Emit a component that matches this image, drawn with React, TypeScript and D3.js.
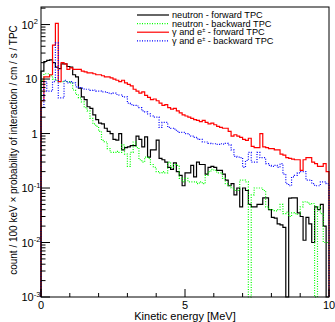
import * as d3 from "d3";

const W = 335;
const H = 322;
const FRAME = { left: 41, right: 329, top: 7, bottom: 297 };

const N_BINS = 100;
const BIN_W = 0.1; // MeV
const Y_MIN = 1e-3;
const Y_MAX = 210;

// counts per 100 keV bin (0 = empty bin)
const neutronFwd = [
	14, 21, 22, 22.5, 20, 16.5, 15.5, 19, 19, 17,
	16.5, 12, 11, 6.8, 4.7, 4.2, 3.1, 2.9, 2.2, 1.8,
	1.55, 1.5, 1.25, 1.1, 1.0, 0.78, 0.76, 1.0, 0.5, 0.55,
	0.57, 0.6, 0.6, 0.9, 0.78, 0.57, 0.87, 0.37, 0.5, 0.5,
	0.76, 0.35, 0.33, 0.3, 0.24, 0.22, 0.29, 0.2, 0.17, 0.11,
	0.19, 0.19, 0.26, 0.16, 0.3, 0.27, 0.27, 0.18, 0.24, 0.25,
	0.24, 0.21, 0.21, 0.18, 0.14, 0.11, 0.12, 0.075, 0.1, 0.045,
	0.1, 0.09, 0.05, 0.045, 0.045, 0.05, 0.05, 0.066, 0.066, 0.04,
	0.029, 0.028, 0.022, 0.021, 0.019, 0, 0.065, 0.066, 0.066, 0.035,
	0.03, 0.011, 0.029, 0.022, 0.01, 0.045, 0.04, 0.05, 0.02, 0,
];

const neutronBwd = [
	9.5, 12.5, 12.5, 11.5, 10, 9.5, 9, 9, 9.2, 9,
	8.5, 6.3, 5.2, 4.5, 3.8, 3.0, 2.6, 1.9, 1.5, 1.35,
	1.1, 0.75, 0.7, 0.53, 0.45, 0.45, 0.47, 0.45, 0.62, 0.42,
	0.25, 0.45, 0.7, 0.55, 0.33, 0.3, 0.37, 0.35, 0.27, 0.24,
	0.2, 0.19, 0.2, 0.19, 0.3, 0.24, 0.27, 0.26, 0.15, 0.13,
	0.15, 0.13, 0.13, 0.13, 0.12, 0.13, 0.12, 0.17, 0.2, 0.22,
	0.21, 0.19, 0.19, 0.15, 0.12, 0.11, 0.1, 0.09, 0.09, 0.14,
	0.14, 0.13, 0, 0.075, 0.1, 0.1, 0.1, 0.09, 0.045, 0.04,
	0.04, 0.038, 0.04, 0.05, 0.034, 0.036, 0.03, 0.035, 0.034, 0.033,
	0.045, 0.056, 0.055, 0.05, 0.052, 0, 0.045, 0.034, 0.01, 0.01,
];

const gammaFwd = [
	4, 11, 11, 12, 42, 105, 9, 20, 19, 15,
	16, 15, 15, 15, 14, 13.5, 13, 13, 12.5, 12,
	12, 11.5, 11, 11, 10.5, 10, 9.5, 9, 9.5, 8.5,
	8, 7.5, 6.5, 6, 5.5, 5.8, 5, 4.6, 4.2, 4.3,
	4, 3.6, 3.3, 3.4, 3.0, 2.8, 2.9, 2.6, 2.4, 2.2,
	2.1, 2.0, 1.9, 1.8, 1.75, 1.65, 1.75, 1.6, 1.5, 1.55,
	1.45, 1.35, 1.3, 1.25, 1.25, 1.1, 0.9, 0.95, 0.9, 0.85,
	0.78, 0.75, 0.82, 0.58, 0.55, 0.55, 1.0, 0.57, 0.55, 0.53,
	0.53, 0.5, 0.5, 0.42, 0.4, 0.36, 0.35, 0.34, 0.33, 0.33,
	0.21, 0.33, 0.36, 0.36, 0.3, 0.28, 0.25, 0.25, 0.28, 0.2,
];

const gammaBwd = [
	3, 9, 6, 6, 9, 46, 4.5, 4.5, 9.5, 8.5,
	9, 8.5, 7.2, 7, 6.8, 6.5, 6.5, 6.2, 6.3, 6,
	6, 5.8, 5.8, 5.5, 5.4, 5.5, 5.2, 5.1, 4.8, 4.7,
	3.6, 3.4, 3.3, 3.2, 3.0, 2.6, 2.5, 2.3, 2.1, 2.0,
	2.0, 1.3, 1.6, 1.6, 1.3, 1.25, 1.2, 1.1, 1.05, 1.05,
	1.0, 0.95, 0.9, 0.85, 0.8, 0.78, 0.7, 0.7, 0.66, 0.65,
	0.65, 0.63, 0.65, 0.64, 0.66, 0.62, 0.5, 0.38, 0.37, 0.36,
	0.24, 0.32, 0.45, 0.3, 0.3, 0.45, 0.36, 0.36, 0.28, 0.26,
	0.25, 0.26, 0.24, 0.28, 0.18, 0.12, 0.11, 0.16, 0.17, 0.19,
	0.2, 0.2, 0.14, 0.14, 0.12, 0.11, 0.11, 0.13, 0.13, 0.12,
];

const xMajor = [0, 5, 10];
const xMinor = [1, 2, 3, 4, 6, 7, 8, 9];
const yDecades = [-3, -2, -1, 0, 1, 2];

const SERIES = [
	{ name: "neutron - forward TPC", data: neutronFwd, color: "#000000", dash: "none" },
	{ name: "neutron - backward TPC", data: neutronBwd, color: "#00ff00", dash: "1,1.5" },
	{ name: "γ and e± - forward TPC", data: gammaFwd, color: "#ff0000", dash: "none" },
	{ name: "γ and e± - backward TPC", data: gammaBwd, color: "#0000ff", dash: "1,1.5" },
];

const FONT = "'Liberation Sans', Arial, Helvetica, sans-serif";

export default function App() {
	const x = d3.scaleLinear().domain([0, N_BINS * BIN_W]).range([FRAME.left, FRAME.right]);
	const y = d3.scaleLog().domain([Y_MIN, Y_MAX]).range([FRAME.bottom, FRAME.top]);
	const yv = (v: number) => (v > 0 ? y(Math.max(v, Y_MIN)) : FRAME.bottom);

	const stepPath = (vals: number[]) => {
		const pts: [number, number][] = [[x(0), FRAME.bottom]];
		vals.forEach((v, i) => {
			pts.push([x(i * BIN_W), yv(v)]);
			pts.push([x((i + 1) * BIN_W), yv(v)]);
		});
		pts.push([x(vals.length * BIN_W), FRAME.bottom]);
		return d3.line()(pts) ?? "";
	};

	const yMinorTicks: number[] = [];
	yDecades.forEach((d) => {
		for (let k = 2; k <= 9; k++) {
			const v = k * Math.pow(10, d);
			if (v <= Y_MAX) yMinorTicks.push(v);
		}
	});

	const decadeLabel = (d: number) => {
		if (d === 0) return <tspan>1</tspan>;
		if (d === 1) return <tspan>10</tspan>;
		return (
			<>
				<tspan>10</tspan>
				<tspan fontSize={7.5} dy={-4.5}>{d}</tspan>
			</>
		);
	};

	return (
		<svg
			width={W}
			height={H}
			style={{ position: "absolute", left: 0, top: 0, background: "#fff" }}
			fontFamily={FONT}
		>
			<rect width={W} height={H} fill="#fff" />

			{SERIES.map((s) => (
				<path
					key={s.name}
					d={stepPath(s.data)}
					fill="none"
					stroke={s.color}
					strokeWidth={1.2}
					strokeDasharray={s.dash}
				/>
			))}

			{/* frame */}
			<rect
				x={FRAME.left}
				y={FRAME.top}
				width={FRAME.right - FRAME.left}
				height={FRAME.bottom - FRAME.top}
				fill="none"
				stroke="#000"
				strokeWidth={1}
			/>

			{/* x ticks */}
			{xMajor.map((t) => (
				<g key={"xM" + t}>
					<line x1={x(t)} x2={x(t)} y1={FRAME.bottom} y2={FRAME.bottom - 8} stroke="#000" />
					<text x={x(t)} y={309} fontSize={11} textAnchor="middle">
						{t}
					</text>
				</g>
			))}
			{xMinor.map((t) => (
				<line key={"xm" + t} x1={x(t)} x2={x(t)} y1={FRAME.bottom} y2={FRAME.bottom - 4} stroke="#000" />
			))}

			{/* y ticks */}
			{yDecades.map((d) => {
				const v = Math.pow(10, d);
				const plain = d === 0 || d === 1;
				return (
					<g key={"yM" + d}>
						<line x1={FRAME.left} x2={FRAME.left + 9} y1={y(v)} y2={y(v)} stroke="#000" />
						{plain ? (
							<text x={37.5} y={y(v) + 4} fontSize={11} textAnchor="end">
								{decadeLabel(d)}
							</text>
						) : (
							<text x={21.5} y={y(v) + 4} fontSize={11}>
								{decadeLabel(d)}
							</text>
						)}
					</g>
				);
			})}
			{yMinorTicks.map((v) => (
				<line key={"ym" + v} x1={FRAME.left} x2={FRAME.left + 4.5} y1={y(v)} y2={y(v)} stroke="#000" />
			))}

			{/* axis titles */}
			<text x={(FRAME.left + FRAME.right) / 2} y={320} fontSize={11} textAnchor="middle">
				Kinetic energy [MeV]
			</text>
			<text
				transform={`translate(16.5,${(FRAME.top + FRAME.bottom) / 2 - 2}) rotate(-90)`}
				fontSize={10}
				textAnchor="middle"
			>
				count / 100 keV × probability of interaction / cm / s / TPC
			</text>

			{/* legend */}
			{SERIES.map((s, i) => {
				const ly = 15 + i * 8.6;
				const isGamma = s.name.startsWith("γ");
				return (
					<g key={"leg" + s.name}>
						<line
							x1={137}
							x2={169}
							y1={ly}
							y2={ly}
							stroke={s.color}
							strokeWidth={1.2}
							strokeDasharray={s.dash}
						/>
						<text x={172} y={ly + 3.2} fontSize={9.2}>
							{isGamma ? (
								<>
									<tspan>γ and e</tspan>
									<tspan fontSize={5.5} dy={-3}>±</tspan>
									<tspan dy={3}>{s.name.slice(8)}</tspan>
								</>
							) : (
								s.name
							)}
						</text>
					</g>
				);
			})}
		</svg>
	);
}
